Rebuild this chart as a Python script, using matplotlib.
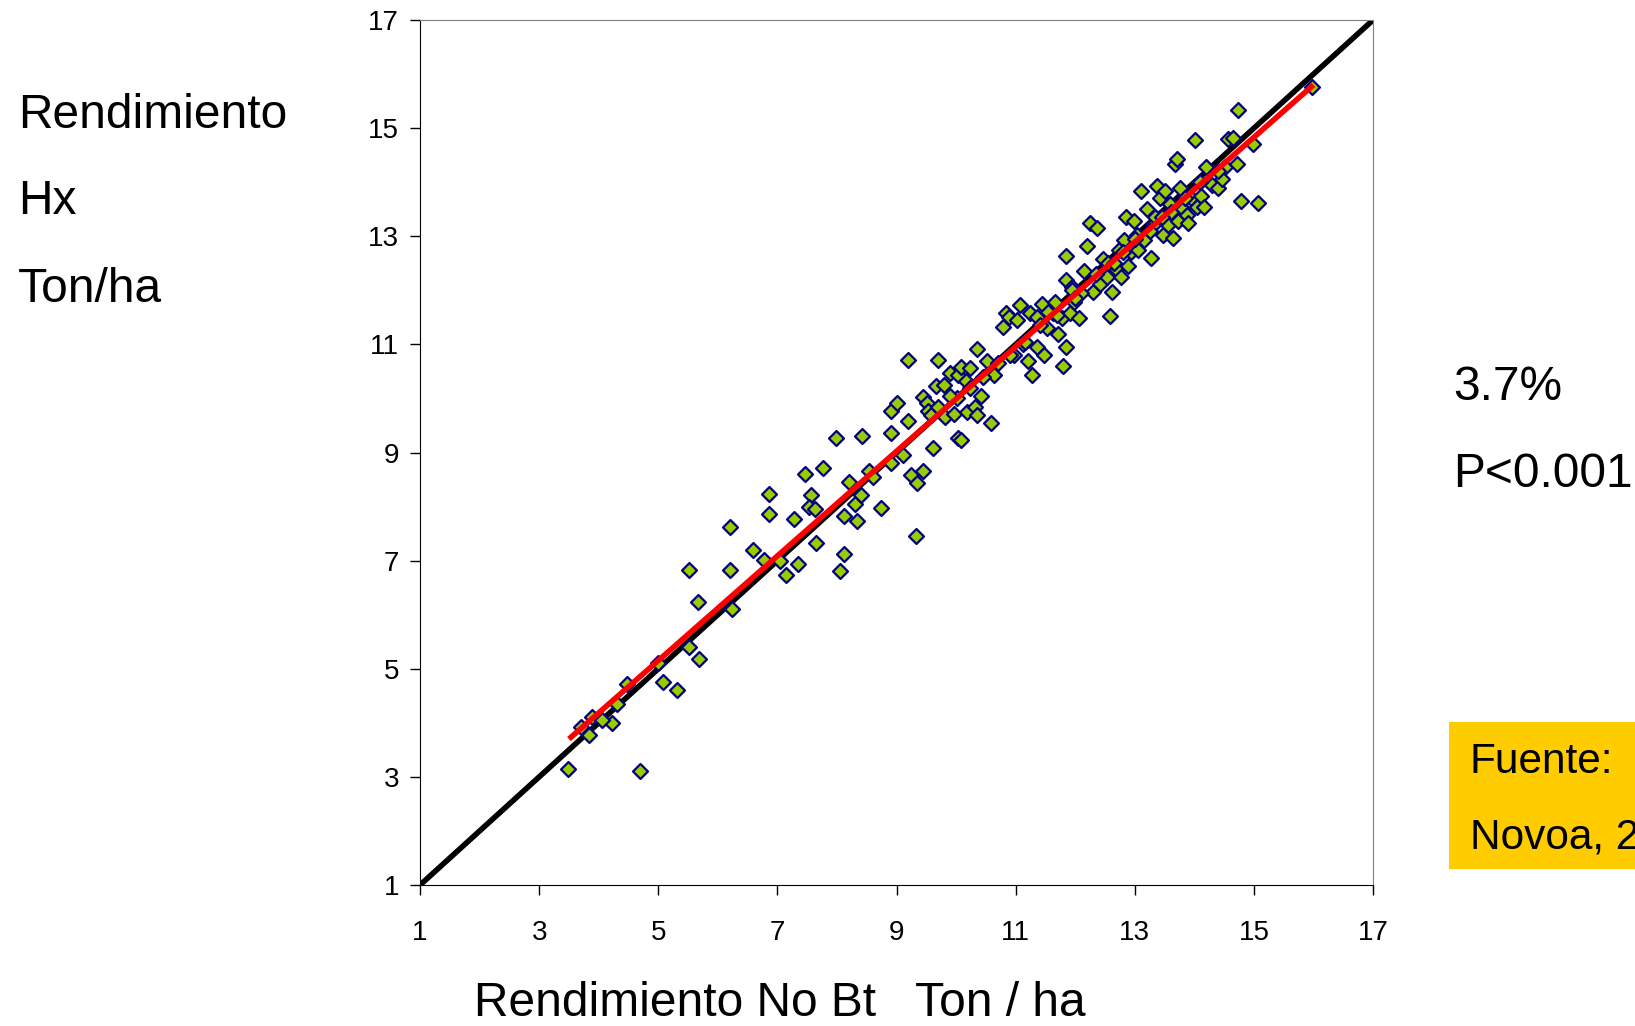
import numpy as np
import matplotlib.pyplot as plt

plt.rcParams['font.family'] = ['Liberation Sans', 'DejaVu Sans']

# Yield pairs (ton/ha): non-Bt (x) vs Hx (y)
no_bt = [3.49, 4.69, 3.70, 3.84, 3.89, 4.22, 4.48, 5.08, 5.32, 5.52, 5.69, 5.52,
         5.66, 6.20, 6.20, 6.23, 6.59, 6.78, 6.86, 6.86, 7.14, 7.34, 7.27, 7.46,
         7.56, 7.53, 7.63, 7.65, 7.77, 7.99, 8.05, 8.12, 8.11, 8.21, 8.30, 8.34,
         8.40, 8.42, 8.54, 8.74, 8.91, 8.91, 8.91, 9.00, 9.10, 9.19, 9.19, 9.25,
         9.33, 9.35, 9.44, 9.45, 9.51, 9.53, 9.58, 9.61, 9.67, 9.69, 9.79, 9.82,
         9.89, 9.96, 10.02, 10.03, 10.09, 10.03, 10.09, 10.17, 10.19, 10.23, 10.24,
         10.31, 10.35, 10.35, 10.42, 10.52, 10.59, 10.63, 10.79, 10.84, 10.89,
         10.98, 11.03, 11.08, 11.12, 11.21, 11.24, 11.28, 11.35, 11.36, 11.45,
         11.47, 11.52, 11.63, 11.66, 11.71, 11.77, 11.80, 11.84, 11.84, 11.85,
         11.91, 11.94, 11.98, 12.06, 12.15, 12.20, 12.24, 12.36, 12.29, 12.41,
         12.47, 12.54, 12.59, 12.61, 12.68, 12.73, 12.76, 12.82, 12.85, 12.89,
         12.94, 12.99, 13.03, 13.06, 13.11, 13.16, 13.20, 13.27, 13.31, 13.34,
         13.38, 13.43, 13.47, 13.50, 13.55, 13.59, 13.64, 13.67, 13.71, 13.73,
         13.76, 13.81, 13.87, 13.90, 13.95, 14.01, 14.04, 14.11, 14.16, 14.20,
         14.30, 14.39, 14.46, 14.51, 14.57, 14.65, 14.71, 14.74, 14.78, 14.99,
         15.07, 15.97,
         4.05, 4.30, 5.00, 7.05, 8.60, 9.70, 10.45, 10.70, 11.15, 11.55, 11.95,
         12.10, 12.35, 12.55, 12.80, 13.00, 13.25, 13.60, 14.10, 14.40, 11.40,
         11.70, 12.00, 12.65, 13.45, 13.85, 10.90, 9.90]
hx = [3.14, 3.10, 3.93, 3.78, 4.10, 3.99, 4.72, 4.76, 4.60, 5.41, 5.18, 6.82,
      6.24, 7.63, 6.82, 6.11, 7.19, 7.01, 8.23, 7.86, 6.73, 6.94, 7.77, 8.60,
      8.21, 8.00, 7.96, 7.32, 8.71, 9.27, 6.80, 7.13, 7.82, 8.46, 8.04, 7.73,
      8.21, 9.31, 8.65, 7.98, 8.81, 9.37, 9.77, 9.91, 8.96, 10.72, 9.58, 8.58,
      7.46, 8.44, 8.65, 10.02, 9.91, 9.77, 9.69, 9.08, 10.23, 10.72, 10.25, 9.66,
      10.48, 9.71, 10.00, 10.43, 10.58, 9.27, 9.23, 10.33, 9.75, 10.56, 10.19,
      9.85, 10.91, 9.69, 10.04, 10.70, 9.54, 10.43, 11.33, 11.58, 11.51,
      10.81, 11.45, 11.72, 11.00, 10.70, 11.58, 10.43, 10.95, 11.51, 11.74,
      10.81, 11.31, 11.58, 11.78, 11.20, 11.49, 10.60, 12.64, 12.20, 10.95,
      11.58, 12.07, 11.78, 11.49, 12.35, 12.82, 13.24, 13.16, 11.97, 12.12,
      12.58, 12.25, 11.53, 11.97, 12.39, 12.74, 12.25, 12.93, 13.36, 12.45,
      12.70, 13.28, 13.03, 12.74, 13.84, 12.93, 13.51, 12.60, 13.20, 13.36,
      13.93, 13.70, 13.03, 13.84, 13.20, 13.59, 12.97, 14.34, 14.42, 13.28,
      13.90, 13.51, 13.39, 13.24, 13.70, 14.78, 13.55, 13.74, 13.55, 14.28,
      13.95, 13.90, 14.05, 14.28, 14.80, 14.82, 14.34, 15.34, 13.65, 14.71,
      13.61, 15.77,
      4.05, 4.35, 5.10, 7.00, 8.55, 9.85, 10.40, 10.65, 11.05, 11.60, 12.00,
      11.95, 12.30, 12.50, 12.70, 12.95, 13.10, 13.45, 14.00, 14.20, 11.35,
      11.55, 11.85, 12.50, 13.35, 13.70, 10.80, 10.05]

# Linear fit endpoints (red line) and 1:1 reference line
fit_x = [3.5, 16.0]
fit_y = [3.7, 15.8]
ref = [1, 17]

ticks = np.arange(1, 18, 2)

fig = plt.figure(figsize=(16.35, 10.26), dpi=100)
ax = fig.add_axes([0.2569, 0.1374, 0.5829, 0.8431])

ax.plot(ref, ref, color='black', linewidth=4, zorder=2, solid_capstyle='butt')
ax.scatter(no_bt, hx, marker='D', s=58, facecolor='#99CC00',
           edgecolor='#000080', linewidth=1.6, zorder=3)
ax.plot(fit_x, fit_y, color='#FF0000', linewidth=4, zorder=4, solid_capstyle='butt')

ax.set_xlim(1, 17)
ax.set_ylim(1, 17)
ax.set_xticks(ticks)
ax.set_yticks(ticks)
ax.tick_params(direction='out', length=7, width=1, labelsize=20)
ax.tick_params(axis='x', pad=18)
ax.tick_params(axis='y', pad=8)
for s in ['top', 'right']:
    ax.spines[s].set_color('#808080')
for s in ['bottom', 'left']:
    ax.spines[s].set_color('black')

# Axis titles placed as free text, as in the slide
fig.text(0.477, 0.022, 'Rendimiento No Bt   Ton / ha', fontsize=34.5,
         ha='center', va='center')
for lab, yy in [('Rendimiento', 0.887), ('Hx', 0.804), ('Ton/ha', 0.718)]:
    fig.text(0.011, yy, lab, fontsize=34.5, ha='left', va='center')

fig.text(0.889, 0.622, '3.7%', fontsize=34.5, ha='left', va='center')
fig.text(0.889, 0.538, 'P<0.001', fontsize=34.5, ha='left', va='center')

# Source box, cut off at the right edge (as in the original slide)
fig.patches.append(plt.Rectangle((0.886, 0.153), 0.2, 0.143,
                                 transform=fig.transFigure,
                                 facecolor='#FFCC00', edgecolor='none'))
fig.text(0.899, 0.257, 'Fuente:', fontsize=30.5, ha='left', va='center')
fig.text(0.899, 0.184, 'Novoa, 2', fontsize=30.5, ha='left', va='center')

fig.savefig('out.png', dpi=100, facecolor='white')
